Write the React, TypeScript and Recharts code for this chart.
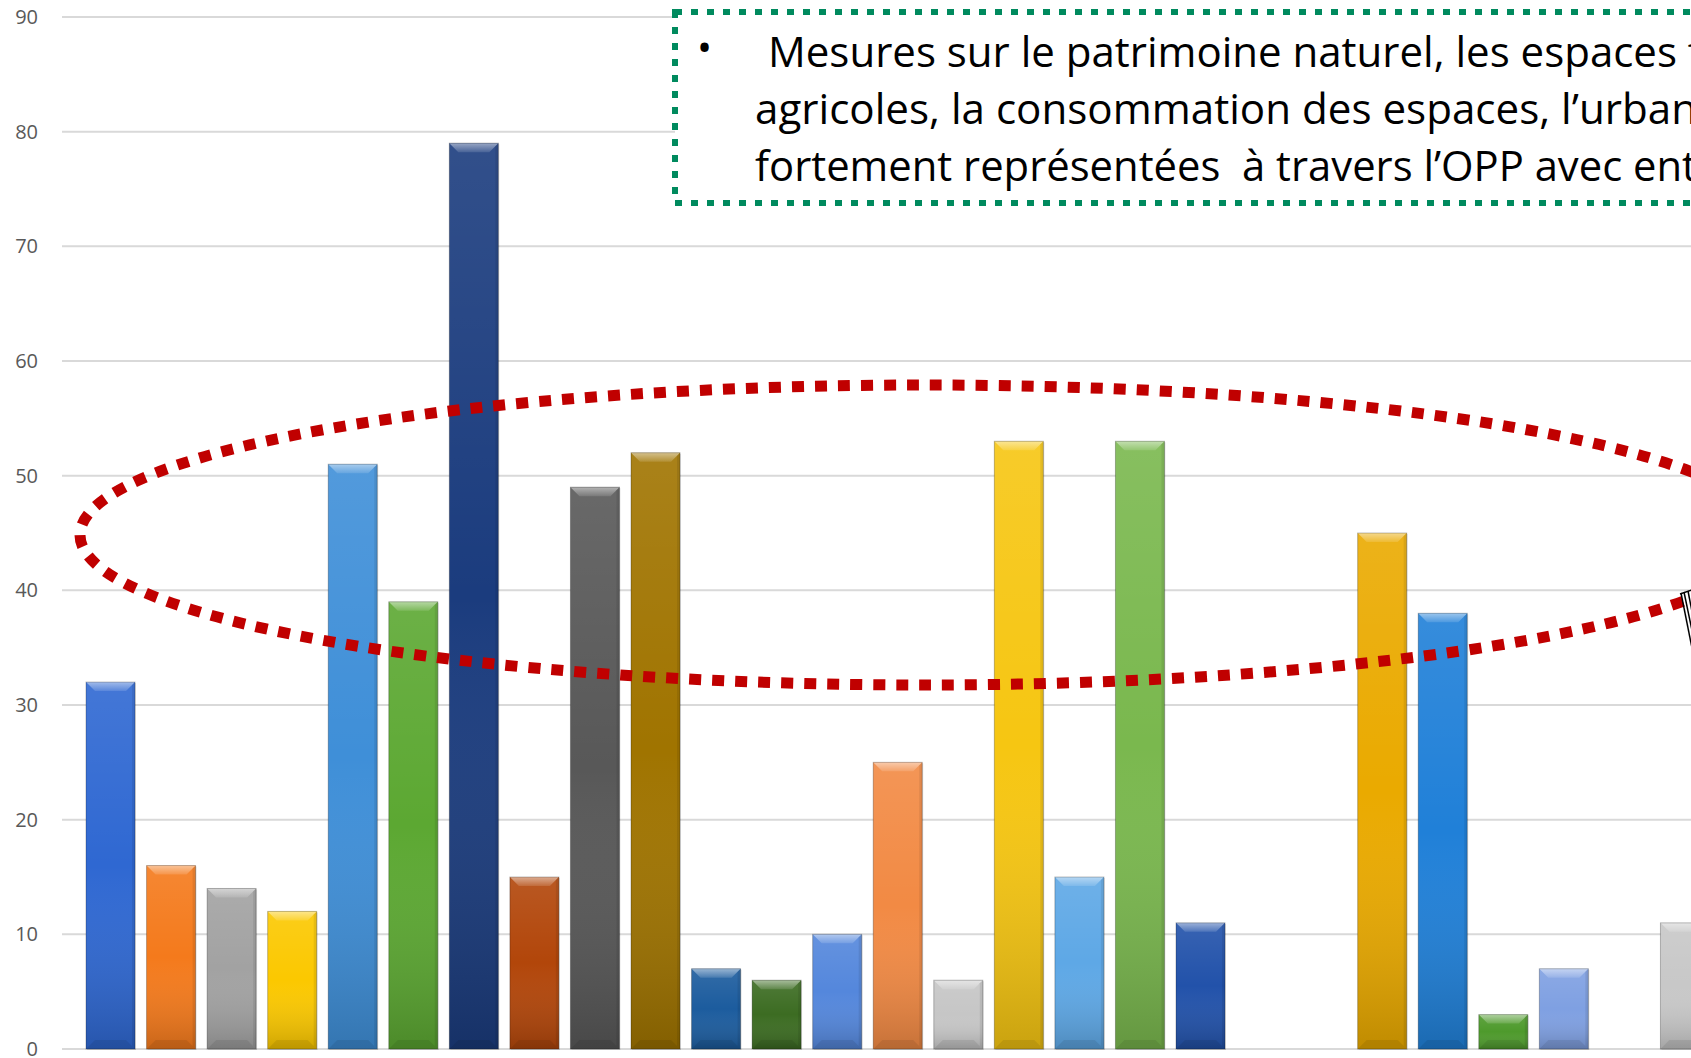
import React from "react";
import { BarChart, Bar, Cell, XAxis, YAxis, CartesianGrid } from "recharts";

// categories (no labels shown on the axis)
const categories = [
  "C1", "C2", "C3", "C4", "C5", "C6", "C7", "C8", "C9", "C10",
  "C11", "C12", "C13", "C14", "C15", "C16", "C17", "C18", "C19", "C20",
  "C21", "C22", "C23", "C24", "C25", "C26", "C27",
];

const values = [
  32, 16, 14, 12, 51, 39, 79, 15, 49, 52,
  7, 6, 10, 25, 6, 53, 15, 53, 11, 0,
  0, 45, 38, 3, 7, 0, 11,
];

const yTicks = [0, 10, 20, 30, 40, 50, 60, 70, 80, 90];

const noteLines = [
  "Mesures sur le patrimoine naturel, les espaces f",
  "agricoles, la consommation des espaces, l\u2019urban",
  "fortement repr\u00e9sent\u00e9es  \u00e0 travers l\u2019OPP avec ent",
];

const COLORS = [
  "#2f68d2", "#f47a1c", "#a2a2a2", "#fbc800", "#3f8fd8", "#5ca832",
  "#1b3c7e", "#b2460a", "#585858", "#a07400", "#1c5c9e", "#3c6c22",
  "#5487dc", "#f28a44", "#c6c6c6", "#f6c612", "#5ea8e6", "#7ab84e",
  "#2252aa", "#999999", "#999999", "#eaaa00", "#2080d8", "#4e9a2c",
  "#7fa0e2", "#999999", "#c8c8c8",
];

const data = categories.map((name, i) => ({ name, value: values[i] }));

// bevelled column like the Office 3D preset
const BevelBar = (props: any) => {
  const { x, y, width, height, fill } = props;
  if (!height || height <= 0) return null;
  const b = Math.min(9, height / 2);
  return (
    <g>
      <rect x={x + 1} y={y + 1} width={width} height={height} fill="rgba(0,0,0,0.12)" />
      <rect x={x} y={y} width={width} height={height} fill={fill} />
      <rect x={x} y={y} width={width} height={height} fill="url(#shade)" />
      <polygon
        points={`${x},${y} ${x + width},${y} ${x + width - b},${y + b} ${x + b},${y + b}`}
        fill="url(#topBevel)"
      />
      <polygon
        points={`${x + width},${y} ${x + width - 3},${y + 3} ${x + width - 3},${y + height - 3} ${x + width},${y + height}`}
        fill="rgba(0,0,0,0.08)"
      />
      <polygon
        points={`${x},${y + height} ${x + width},${y + height} ${x + width - b},${y + height - b} ${x + b},${y + height - b}`}
        fill="rgba(0,0,0,0.08)"
      />
      <rect
        x={x}
        y={y}
        width={width}
        height={height}
        fill="none"
        stroke="rgba(0,0,0,0.25)"
        strokeWidth={1}
      />
    </g>
  );
};

export default function App() {
  return (
    <div
      style={{
        position: "absolute",
        left: 0,
        top: 0,
        width: 1691,
        height: 1058,
        overflow: "hidden",
        background: "#ffffff",
      }}
    >
      <BarChart
        width={1715}
        height={1058}
        data={data}
        margin={{ top: 17, right: 0, bottom: 9, left: 0 }}
        barSize={49}
      >
        <defs>
          <linearGradient id="shade" x1="0" y1="0" x2="0" y2="1">
            <stop offset="0%" stopColor="#ffffff" stopOpacity={0.1} />
            <stop offset="50%" stopColor="#ffffff" stopOpacity={0} />
            <stop offset="100%" stopColor="#000000" stopOpacity={0.18} />
          </linearGradient>
          <linearGradient id="topBevel" x1="0" y1="0" x2="0" y2="1">
            <stop offset="0%" stopColor="#ffffff" stopOpacity={0.5} />
            <stop offset="100%" stopColor="#ffffff" stopOpacity={0.12} />
          </linearGradient>
        </defs>
        <CartesianGrid vertical={false} stroke="#d9d9d9" strokeWidth={2} />
        <XAxis dataKey="name" hide padding={{ left: 18, right: 0 }} />
        <YAxis
          width={62}
          domain={[0, 90]}
          ticks={yTicks}
          axisLine={false}
          tickLine={false}
          tickSize={0}
          tickMargin={24}
          interval={0}
          tick={{ fill: "#595959", fontSize: 20, fontFamily: "Open Sans" }}
        />
        <Bar dataKey="value" isAnimationActive={false} shape={<BevelBar />}>
          {data.map((d, i) => (
            <Cell key={d.name} fill={COLORS[i % COLORS.length]} />
          ))}
        </Bar>
      </BarChart>

      <svg
        width={1691}
        height={1058}
        style={{ position: "absolute", left: 0, top: 0, pointerEvents: "none" }}
      >
        <rect
          x={675}
          y={12}
          width={1100}
          height={191}
          fill="#ffffff"
          stroke="#008a5e"
          strokeWidth={6}
          strokeDasharray="7 9"
        />
        <text x={697} y={62} fontSize={40} fontFamily="Open Sans" fill="#000">
          {"\u2022"}
        </text>
        {noteLines.map((line, i) => (
          <text
            key={i}
            x={i === 0 ? 768 : 755}
            y={67 + i * 57}
            fontSize={42}
            fontFamily="Open Sans"
            fill="#000"
            textLength={i === 0 ? 934 : 942}
            lengthAdjust="spacingAndGlyphs"
            style={{ whiteSpace: "pre" }}
          >
            {line}
          </text>
        ))}
        <ellipse
          cx={925}
          cy={535}
          rx={845}
          ry={150}
          fill="none"
          stroke="#c00000"
          strokeWidth={11}
          strokeDasharray="12 11"
        />
        <g stroke="#000" strokeWidth={1.5} fill="none">
          <line x1={1681} y1={593} x2={1692} y2={648} />
          <line x1={1684} y1={592} x2={1694} y2={640} />
          <line x1={1688} y1={591} x2={1696} y2={632} />
          <line x1={1680} y1={594} x2={1692} y2={590} />
        </g>
      </svg>
    </div>
  );
}
